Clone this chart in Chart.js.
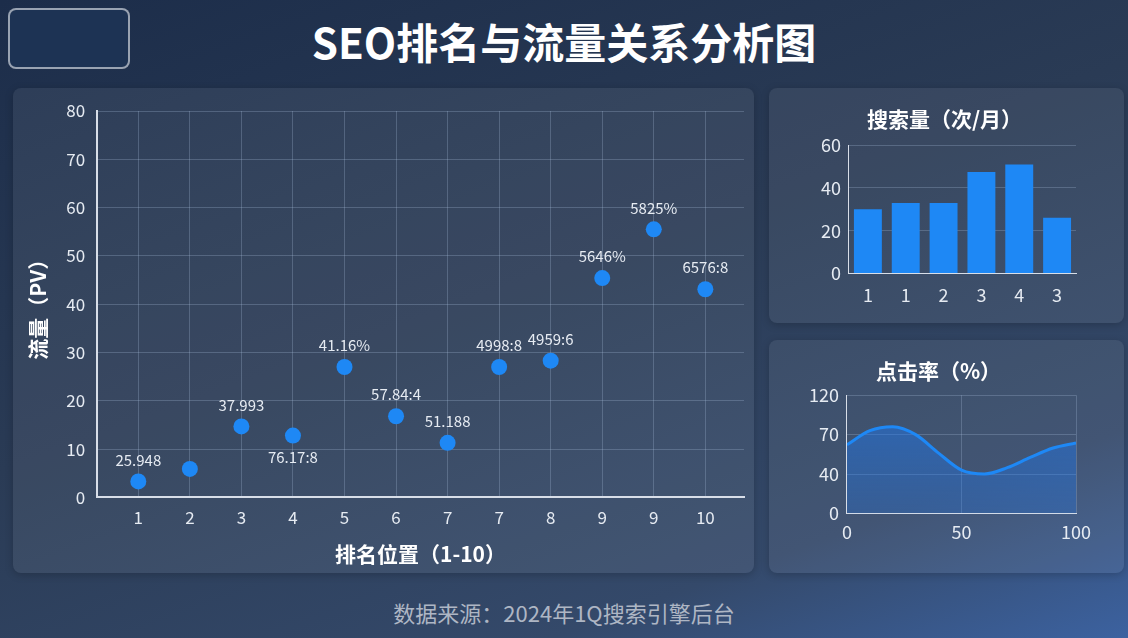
<!DOCTYPE html>
<html><head><meta charset="utf-8">
<script src="https://cdn.jsdelivr.net/npm/chart.js@4/dist/chart.umd.min.js"></script>
<style>
  html, body { margin: 0; width: 1128px; height: 638px; overflow: hidden; }
  body {
    background: linear-gradient(160deg, #1c2d4a 0%, #2a3b55 45%, #34496a 80%, #3c62a0 100%);
    font-family: "Noto Sans CJK SC", "Noto Sans", sans-serif; color: #fff; position: relative;
  }
  .badge { position: absolute; left: 8px; top: 8px; width: 118px; height: 57px;
    border: 2px solid rgba(255,255,255,0.55); border-radius: 8px; background: #1d3354; }
  h1 { position: absolute; left: 0; right: 0; top: 10px; margin: 0; text-align: center;
    font-size: 42px; font-weight: 700; }
  .panel { position: absolute; background: rgba(255,255,255,0.07); border-radius: 8px;
    box-shadow: 0 2px 8px rgba(0,0,0,0.2); }
  .foot { position: absolute; left: 0; right: 0; top: 596px; text-align: center;
    font-size: 22px; color: #aeb6c4; }
</style></head>
<body>
<div class="badge"></div>
<h1>SEO排名与流量关系分析图</h1>
<div class="panel" style="left:13px;top:88px;width:741px;height:485px"><canvas id="scatter"></canvas></div>
<div class="panel" style="left:769px;top:88px;width:355px;height:235px"><canvas id="bars"></canvas></div>
<div class="panel" style="left:769px;top:340px;width:355px;height:233px"><canvas id="ctr"></canvas></div>
<div class="foot">数据来源：2024年1Q搜索引擎后台</div>
<script>
const rankLabels = ['1','2','3','4','5','6','7','7','8','9','9','10'];
const trafficPV = [3.3, 5.9, 14.7, 12.8, 27.0, 16.8, 11.3, 27.0, 28.3, 45.4, 55.5, 43.1];
const pointTags = ['25.948','','37.993','76.17:8','41.16%','57.84:4','51.188','4998:8','4959:6','5646%','5825%','6576:8'];
const tagBelow = [false,false,false,true,false,false,false,false,false,false,false,false];

const volumeLabels = ['1','1','2','3','4','3'];
const volumeValues = [30, 33, 33, 47.5, 51, 26];

const ctrX = [0,10,20,30,40,50,60,70,80,90,100];
const ctrLevel = [1.74, 2.1, 2.2, 2.0, 1.53, 1.1, 1.0, 1.16, 1.42, 1.66, 1.79];
const ctrTickLabels = ['0','40','70','120'];

const FONT = '"Noto Sans CJK SC", "Noto Sans", sans-serif';
const TXT = '#e6ebf2';
const GRID = 'rgba(170,190,220,0.28)';
const BLUE = '#1e88f5';
Chart.defaults.font.family = FONT;
Chart.defaults.color = TXT;
Chart.defaults.animation = false;

const tagPlugin = {
  id: 'tags',
  afterDatasetsDraw(chart) {
    const { ctx } = chart;
    const meta = chart.getDatasetMeta(0);
    ctx.save();
    ctx.font = '15px ' + FONT;
    ctx.fillStyle = TXT;
    ctx.textAlign = 'center';
    meta.data.forEach((p, i) => {
      if (!pointTags[i]) return;
      ctx.textBaseline = tagBelow[i] ? 'top' : 'bottom';
      ctx.fillText(pointTags[i], p.x, tagBelow[i] ? p.y + 14 : p.y - 14);
    });
    ctx.restore();
  }
};

new Chart(document.getElementById('scatter'), {
  type: 'scatter',
  data: { datasets: [{ data: trafficPV.map((y, i) => ({ x: i, y })),
    pointRadius: 8, pointBackgroundColor: BLUE, pointBorderWidth: 0 }] },
  options: {
    responsive: true, maintainAspectRatio: false,
    layout: { padding: { left: 8, right: 10, top: 23, bottom: 2 } },
    plugins: { legend: { display: false }, tooltip: { enabled: false } },
    scales: {
      x: { type: 'linear', min: -0.8, max: 11.75,
        grid: { color: GRID, drawTicks: false },
        border: { color: '#d8dee8', width: 2 },
        ticks: { stepSize: 1, includeBounds: false, font: { size: 17 }, padding: 10,
          callback: v => rankLabels[v] ?? '' },
        title: { display: true, text: '排名位置（1-10）', font: { size: 21, weight: 'bold' }, color: '#fff' } },
      y: { min: 0, max: 80, grid: { color: GRID, drawTicks: false },
        border: { color: '#d8dee8', width: 2 },
        ticks: { stepSize: 10, font: { size: 17 }, padding: 12 },
        title: { display: true, text: '流量（PV）', font: { size: 21, weight: 'bold' }, color: '#fff' } }
    }
  },
  plugins: [tagPlugin]
});

new Chart(document.getElementById('bars'), {
  type: 'bar',
  data: { labels: volumeLabels, datasets: [{ data: volumeValues, backgroundColor: BLUE,
    categoryPercentage: 0.9, barPercentage: 0.82 }] },
  options: {
    responsive: true, maintainAspectRatio: false,
    layout: { padding: { left: 44, right: 48, bottom: 14 } },
    plugins: { legend: { display: false }, tooltip: { enabled: false },
      title: { display: true, text: '搜索量（次/月）', font: { size: 21, weight: 'bold' }, color: '#fff', padding: { top: 18, bottom: 14 } } },
    scales: {
      x: { grid: { display: false }, border: { color: '#d8dee8' }, ticks: { font: { size: 18 } } },
      y: { min: 0, max: 60, grid: { color: GRID, drawTicks: false }, border: { color: '#d8dee8' },
        ticks: { stepSize: 20, font: { size: 18 }, padding: 8 } }
    }
  }
});

const ctrCanvas = document.getElementById('ctr');
const g = ctrCanvas.getContext('2d').createLinearGradient(0, 60, 0, 180);
g.addColorStop(0, 'rgba(30,120,240,0.55)');
g.addColorStop(1, 'rgba(30,120,240,0.25)');
new Chart(ctrCanvas, {
  type: 'line',
  data: { datasets: [{ data: ctrX.map((x, i) => ({ x, y: ctrLevel[i] })),
    borderColor: BLUE, borderWidth: 3, backgroundColor: g, fill: 'origin',
    pointRadius: 0, tension: 0.4, cubicInterpolationMode: 'monotone' }] },
  options: {
    responsive: true, maintainAspectRatio: false,
    layout: { padding: { left: 32, right: 48, bottom: 22 } },
    plugins: { legend: { display: false }, tooltip: { enabled: false },
      title: { display: true, text: '点击率（%）', font: { size: 21, weight: 'bold' }, color: '#fff', padding: { top: 18, bottom: 12 } } },
    scales: {
      x: { type: 'linear', min: 0, max: 100, grid: { color: GRID, drawTicks: false },
        border: { color: '#d8dee8' }, ticks: { stepSize: 50, font: { size: 18 }, padding: 8 } },
      y: { min: 0, max: 3, grid: { color: GRID, drawTicks: false }, border: { color: '#d8dee8' },
        ticks: { stepSize: 1, font: { size: 18 }, padding: 8, callback: v => ctrTickLabels[v] } }
    }
  }
});
</script>
</body></html>
